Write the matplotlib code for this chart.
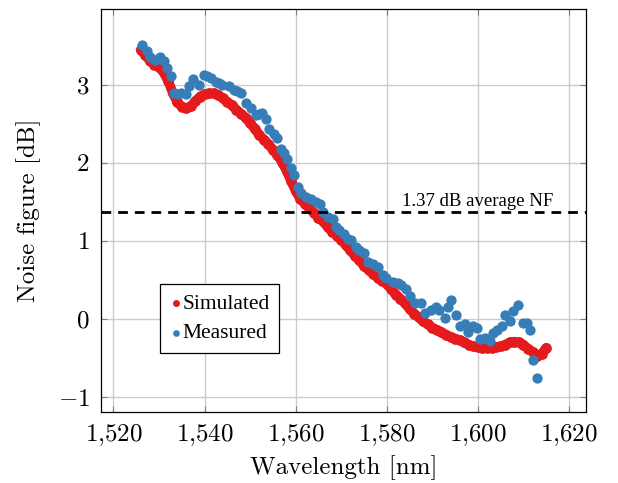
import numpy as np
import matplotlib
matplotlib.use("Agg")
import matplotlib.pyplot as plt
from matplotlib.ticker import FuncFormatter, MultipleLocator

plt.rcParams['mathtext.fontset'] = 'cm'
plt.rcParams['font.family'] = ['Liberation Serif', 'DejaVu Serif']

# simulated noise figure, 1 nm steps
sim_wl = list(range(1526, 1616))
sim_nf = [3.45, 3.38, 3.31, 3.26, 3.23, 3.16, 3.05, 2.90, 2.78, 2.72,
          2.70, 2.73, 2.79, 2.85, 2.88, 2.89, 2.89, 2.87, 2.83, 2.78,
          2.74, 2.68, 2.63, 2.58, 2.51, 2.44, 2.36, 2.30, 2.24, 2.17,
          2.10, 2.01, 1.90, 1.77, 1.64, 1.54, 1.48, 1.42, 1.36, 1.30,
          1.25, 1.18, 1.12, 1.07, 1.01, 0.95, 0.88, 0.81, 0.75, 0.68,
          0.63, 0.58, 0.53, 0.49, 0.45, 0.38, 0.31, 0.26, 0.20, 0.13,
          0.07, 0.02, -0.03, -0.07, -0.11, -0.14, -0.17, -0.20, -0.23, -0.25,
          -0.27, -0.30, -0.33, -0.35, -0.36, -0.37, -0.37, -0.37, -0.36, -0.35,
          -0.33, -0.30, -0.29, -0.30, -0.33, -0.38, -0.42, -0.47, -0.45, -0.37]

# measured noise figure
meas_wl = [1526.2, 1527.3, 1528.1, 1529.2, 1530.3, 1531.0, 1531.8, 1532.6, 1533.3, 1534.1,
           1534.8, 1535.9, 1536.6, 1537.4, 1538.8, 1539.9, 1540.6, 1541.4, 1542.5, 1543.2,
           1543.9, 1545.4, 1546.5, 1547.2, 1547.9, 1549.0, 1550.1, 1551.2, 1552.0, 1552.7,
           1553.4, 1554.1, 1555.2, 1556.0, 1556.7, 1557.4, 1558.1, 1558.9, 1559.6, 1560.5,
           1561.2, 1562.3, 1563.4, 1564.5, 1565.3, 1566.0, 1567.1, 1568.2, 1568.9, 1569.6,
           1570.7, 1571.5, 1572.2, 1573.3, 1574.0, 1575.1, 1575.8, 1576.9, 1578.0, 1579.1,
           1579.8, 1581.3, 1582.4, 1583.1, 1584.2, 1585.0, 1586.1, 1587.6, 1588.3, 1589.8,
           1590.9, 1591.5, 1592.7, 1593.4, 1594.2, 1595.3, 1596.0, 1597.1, 1597.8, 1598.9,
           1599.7, 1600.4, 1601.5, 1602.6, 1603.3, 1604.1, 1605.2, 1605.9, 1607.0, 1607.7,
           1608.8, 1609.9, 1610.7, 1611.4, 1612.1, 1613.0]
meas_nf = [3.51, 3.43, 3.36, 3.32, 3.36, 3.30, 3.21, 3.11, 2.90, 2.88,
           2.90, 2.88, 2.98, 3.07, 3.00, 3.13, 3.11, 3.09, 3.04, 3.02,
           3.00, 2.98, 2.94, 2.92, 2.90, 2.77, 2.70, 2.62, 2.63, 2.64,
           2.56, 2.43, 2.37, 2.32, 2.18, 2.13, 2.05, 1.94, 1.84, 1.69,
           1.62, 1.56, 1.54, 1.50, 1.48, 1.37, 1.31, 1.28, 1.18, 1.14,
           1.09, 1.03, 1.01, 0.92, 0.88, 0.84, 0.73, 0.71, 0.67, 0.56,
           0.52, 0.48, 0.46, 0.44, 0.39, 0.29, 0.20, 0.20, 0.08, 0.12,
           0.16, 0.12, 0.01, 0.16, 0.25, 0.05, -0.09, -0.07, -0.16, -0.09,
           -0.11, -0.26, -0.24, -0.28, -0.18, -0.14, -0.09, 0.05, -0.03, 0.10,
           0.18, -0.05, -0.05, -0.14, -0.53, -0.75]

avg_nf = 1.37

red = '#e41a1c'
blue = '#377eb8'

fig = plt.figure(figsize=(6.18, 4.83), dpi=100)
ax = fig.add_axes([0.163, 0.148, 0.785, 0.833])

# dense simulated points -> draw as a thick band plus markers
ax.plot(sim_wl, sim_nf, color=red, lw=7, solid_capstyle='round', solid_joinstyle='round', zorder=3)
ax.scatter(sim_wl, sim_nf, s=60, color=red, linewidths=0, label='Simulated', zorder=3)
ax.scatter(meas_wl, meas_nf, s=55, color=blue, linewidths=0, label='Measured', zorder=4)
ax.axhline(avg_nf, color='black', lw=2, ls=(0, (3.5, 2.5)), zorder=5)
ax.text(1600, avg_nf + 0.08, '1.37 dB average NF', fontsize=13.5, ha='center', va='baseline')

ax.set_xlim(1517.2, 1623.7)
ax.set_ylim(-1.185, 3.97)
ax.xaxis.set_major_locator(MultipleLocator(20))
ax.yaxis.set_major_locator(MultipleLocator(1))
ax.xaxis.set_major_formatter(FuncFormatter(lambda v, p: '$' + f'{int(round(v)):,}'.replace(',', '{,}') + '$'))
ax.yaxis.set_major_formatter(FuncFormatter(lambda v, p: f'${v:g}$'))
ax.tick_params(direction='in', length=4, color='#808080', top=True, right=True,
               labelsize=18, pad=8)
ax.grid(True, color='#cccccc', lw=1.0, zorder=0)
ax.set_axisbelow(True)
for sp in ax.spines.values():
    sp.set_linewidth(0.9)

ax.set_xlabel('Wavelength [nm]', fontsize=18, family='cmr10', labelpad=5)
ax.set_ylabel('Noise figure [dB]', fontsize=18, family='cmr10', labelpad=12)

leg = ax.legend(loc='upper left', bbox_to_anchor=(0.122, 0.317), borderaxespad=0,
                fontsize=15.5, fancybox=False, framealpha=1, edgecolor='black',
                handletextpad=0.0, handlelength=0.6, markerscale=0.65,
                borderpad=0.45, labelspacing=0.45)
leg.get_frame().set_linewidth(0.9)

fig.savefig('out.png', dpi=100)
